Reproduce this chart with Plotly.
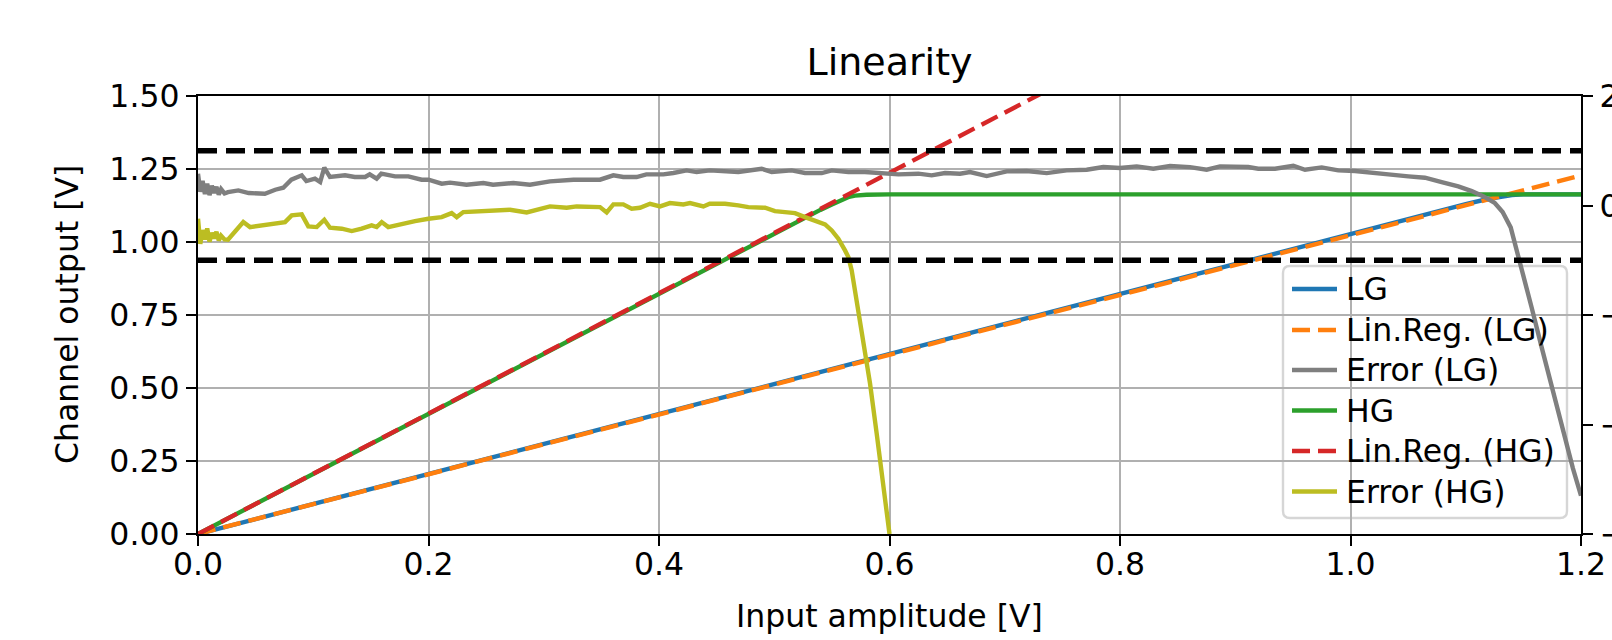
import plotly.graph_objects as go

# ---------------- data ----------------
x_lg = [0.0, 0.2, 0.4, 0.6, 0.8, 1.0, 1.05, 1.10, 1.12, 1.13, 1.14, 1.15, 1.2]
y_lg = [0.0, 0.206, 0.411, 0.617, 0.824, 1.030, 1.080, 1.130, 1.148, 1.156, 1.161, 1.163, 1.163]

x_reg_lg = [0.0, 1.2]
y_reg_lg = [0.0, 1.228]

x_hg = [0.0, 0.2, 0.4, 0.5, 0.54, 0.55, 0.556, 0.56, 0.565, 0.57, 0.58, 0.6, 1.2]
y_hg = [0.0, 0.412, 0.825, 1.030, 1.110, 1.128, 1.140, 1.147, 1.155, 1.159, 1.162, 1.163, 1.163]

x_reg_hg = [0.0, 1.2]
y_reg_hg = [0.0, 2.474]

x_err_lg = [0.000, 0.002, 0.004, 0.006, 0.008, 0.010, 0.012, 0.014, 0.016, 0.018, 0.020, 0.023,
            0.026, 0.035, 0.044, 0.058, 0.067, 0.074, 0.081, 0.090, 0.094, 0.1015, 0.106, 0.1096,
            0.1145, 0.1276, 0.136, 0.145, 0.149, 0.155, 0.159, 0.171, 0.1825, 0.194, 0.200, 0.2115,
            0.2187, 0.233, 0.2476, 0.256, 0.2736, 0.288, 0.3054, 0.3257, 0.3488, 0.3604, 0.369,
            0.3806, 0.389, 0.4038, 0.4124, 0.424, 0.4327, 0.444, 0.4688, 0.4891, 0.4978, 0.5151,
            0.5267, 0.5412, 0.5499, 0.5643, 0.5787, 0.5932, 0.6077, 0.625, 0.6366, 0.6482, 0.6612,
            0.6699, 0.6843, 0.7017, 0.719, 0.7364, 0.7537, 0.7711, 0.7855, 0.80, 0.8145, 0.8289,
            0.8434, 0.8607, 0.8752, 0.8868, 0.8969, 0.9113, 0.92, 0.9345, 0.9504, 0.9605, 0.975,
            0.9894, 1.0039, 1.0184, 1.0328, 1.0502, 1.0646, 1.0791, 1.0935, 1.1052, 1.115, 1.125,
            1.132, 1.139, 1.148, 1.157, 1.166, 1.175, 1.184, 1.193, 1.2]
err_lg = [0.58, 0.25, 0.45, 0.21, 0.40, 0.19, 0.36, 0.23, 0.34, 0.20, 0.30, 0.22,
          0.245, 0.276, 0.227, 0.215, 0.288, 0.325, 0.471, 0.551, 0.447, 0.49, 0.429, 0.691,
          0.52, 0.551, 0.52, 0.52, 0.568, 0.49, 0.581, 0.532, 0.532, 0.471, 0.471, 0.398,
          0.417, 0.38, 0.41, 0.38, 0.41, 0.38, 0.44, 0.471, 0.471, 0.551, 0.52,
          0.52, 0.568, 0.568, 0.593, 0.641, 0.611, 0.641, 0.611, 0.672, 0.611, 0.641,
          0.593, 0.593, 0.641, 0.611, 0.611, 0.593, 0.568, 0.581, 0.551, 0.593, 0.581,
          0.611, 0.538, 0.623, 0.629, 0.592, 0.641, 0.653, 0.702, 0.684, 0.714, 0.672,
          0.72, 0.702, 0.653, 0.714, 0.714, 0.702, 0.672, 0.672, 0.726, 0.653, 0.696,
          0.641, 0.629, 0.592, 0.568, 0.531, 0.507, 0.428, 0.349, 0.264, 0.17, 0.05,
          -0.12, -0.40, -1.10, -1.85, -2.60, -3.35, -4.10, -4.80, -5.30]

x_err_hg = [0.000, 0.002, 0.004, 0.006, 0.008, 0.010, 0.012, 0.014, 0.016, 0.018, 0.020, 0.023,
            0.026, 0.0321, 0.0393, 0.0451, 0.0553, 0.0668, 0.0755, 0.0813, 0.090, 0.0957, 0.103,
            0.1096, 0.1145, 0.1247, 0.1334, 0.142, 0.1507, 0.155, 0.1594, 0.1651, 0.1767, 0.1883,
            0.1999, 0.2114, 0.2201, 0.2245, 0.2302, 0.2476, 0.2707, 0.2852, 0.2996, 0.3054, 0.3199,
            0.3286, 0.3488, 0.3546, 0.3604, 0.369, 0.3763, 0.3835, 0.3922, 0.4009, 0.4095, 0.4211,
            0.4269, 0.4385, 0.444, 0.4573, 0.4688, 0.4775, 0.492, 0.5006, 0.5093, 0.518, 0.5267,
            0.5354, 0.5441, 0.5499, 0.5556, 0.5614, 0.5643, 0.5672, 0.5715, 0.5773, 0.5831, 0.5889,
            0.5946, 0.6]
err_hg = [-0.24, -0.70, -0.45, -0.62, -0.42, -0.66, -0.50, -0.60, -0.48, -0.64, -0.55, -0.62,
          -0.626, -0.485, -0.303, -0.394, -0.363, -0.321, -0.303, -0.181, -0.163, -0.382, -0.394,
          -0.26, -0.406, -0.424, -0.467, -0.424, -0.363, -0.394, -0.303, -0.394, -0.333, -0.285,
          -0.242, -0.212, -0.139, -0.212, -0.12, -0.102, -0.078, -0.126, -0.059, -0.017, -0.041,
          -0.017, -0.029, -0.126, 0.02, 0.02, -0.059, -0.041, 0.032, -0.017, 0.044, 0.02,
          0.044, -0.017, 0.032, 0.032, 0.002, -0.029, -0.041, -0.102, -0.12, -0.139, -0.212,
          -0.285, -0.345, -0.455, -0.607, -0.82, -0.942, -1.185, -1.73, -2.52, -3.25, -4.17,
          -5.08, -6.0]

limit_x = [0.0, 1.2]
limit_upper = [1.0, 1.0]
limit_lower = [-1.0, -1.0]

x_ticks = [0.0, 0.2, 0.4, 0.6, 0.8, 1.0, 1.2]
x_ticktext = ["0.0", "0.2", "0.4", "0.6", "0.8", "1.0", "1.2"]
y_ticks = [0.0, 0.25, 0.5, 0.75, 1.0, 1.25, 1.5]
y_ticktext = ["0.00", "0.25", "0.50", "0.75", "1.00", "1.25", "1.50"]
y2_ticks = [-6, -4, -2, 0, 2]
y2_ticktext = ["\u22126", "\u22124", "\u22122", "0", "2"]

legend_labels = ["LG", "Lin.Reg. (LG)", "Error (LG)", "HG", "Lin.Reg. (HG)", "Error (HG)"]
legend_colors = ["#1f77b4", "#ff7f0e", "#7f7f7f", "#2ca02c", "#d62728", "#bcbd22"]
legend_dashes = ["solid", "18px,8px", "solid", "solid", "18px,8px", "solid"]

# ---------------- style ----------------
FONT = "DejaVu Sans"
FS = 31.5
LW = 4.4
W, H = 1612, 640
L, R, T, B = 198, 31, 96, 106
PW, PH = W - L - R, H - T - B

fig = go.Figure()

def add(x, y, name, color, dash="solid", axis="y"):
    fig.add_trace(go.Scatter(x=x, y=y, mode="lines", name=name, yaxis=axis,
                             line=dict(color=color, width=LW, dash=dash),
                             showlegend=False, hoverinfo="skip"))

add(x_lg, y_lg, "LG", "#1f77b4")
add(x_reg_lg, y_reg_lg, "Lin.Reg. (LG)", "#ff7f0e", "18px,8px")
add(x_hg, y_hg, "HG", "#2ca02c")
add(x_reg_hg, y_reg_hg, "Lin.Reg. (HG)", "#d62728", "18px,8px")
add(x_err_lg, err_lg, "Error (LG)", "#7f7f7f", axis="y2")
add(x_err_hg, err_hg, "Error (HG)", "#bcbd22", axis="y2")
fig.add_trace(go.Scatter(x=limit_x, y=limit_upper, mode="lines", yaxis="y2", showlegend=False,
                         line=dict(color="black", width=5.4, dash="19px,9px"), hoverinfo="skip"))
fig.add_trace(go.Scatter(x=limit_x, y=limit_lower, mode="lines", yaxis="y2", showlegend=False,
                         line=dict(color="black", width=5.4, dash="19px,9px"), hoverinfo="skip"))

axis_common = dict(showline=True, linecolor="black", linewidth=2.4, ticks="outside",
                   ticklen=10, tickwidth=2.4, tickcolor="black", zeroline=False,
                   tickfont=dict(family=FONT, size=FS, color="black"))

fig.update_layout(
    width=W, height=H,
    margin=dict(l=L, r=R, t=T, b=B, autoexpand=False),
    paper_bgcolor="white", plot_bgcolor="white",
    showlegend=False,
    xaxis=dict(range=[0, 1.2], tickvals=x_ticks, ticktext=x_ticktext, mirror=True,
               showgrid=True, gridcolor="#b0b0b0", gridwidth=2, ticklabelstandoff=-9,
               **axis_common),
    yaxis=dict(range=[0, 1.5], tickvals=y_ticks, ticktext=y_ticktext,
               showgrid=True, gridcolor="#b0b0b0", gridwidth=2, **axis_common),
    yaxis2=dict(range=[-6, 2], tickvals=y2_ticks, ticktext=y2_ticktext, overlaying="y",
                side="right", showgrid=False, **axis_common),
    title=dict(text="Linearity", x=(L + PW / 2) / W, xanchor="center", y=1 - 62 / H,
               yanchor="middle", font=dict(family=FONT, size=38, color="black")),
)

# axis titles
fig.add_annotation(text="Input amplitude [V]", xref="paper", yref="paper", x=0.5,
                   y=-(616 - (T + PH)) / PH, xanchor="center", yanchor="middle",
                   showarrow=False, font=dict(family=FONT, size=FS, color="black"))
fig.add_annotation(text="Channel output [V]", xref="paper", yref="paper", x=(67 - L) / PW,
                   y=0.5, xanchor="center", yanchor="middle", textangle=-90,
                   showarrow=False, font=dict(family=FONT, size=FS, color="black"))

# manual legend (matplotlib-style box)
def px2x(px):
    return (px - L) / PW

def py2y(py):
    return (T + PH - py) / PH

bx0, bx1, by0, by1 = px2x(1283), px2x(1567), py2y(518), py2y(266)
rx, ry = 7 / PW, 7 / PH
path = (f"M{bx0+rx},{by1} L{bx1-rx},{by1} Q{bx1},{by1} {bx1},{by1-ry} "
        f"L{bx1},{by0+ry} Q{bx1},{by0} {bx1-rx},{by0} L{bx0+rx},{by0} "
        f"Q{bx0},{by0} {bx0},{by0+ry} L{bx0},{by1-ry} Q{bx0},{by1} {bx0+rx},{by1} Z")
fig.add_shape(type="path", path=path, xref="paper", yref="paper", layer="between",
              fillcolor="rgba(255,255,255,0.8)", line=dict(color="rgba(204,204,204,0.8)", width=2.4))

row_py = [289, 330, 370, 410.5, 451, 491.5]
for lab, col, dsh, py in zip(legend_labels, legend_colors, legend_dashes, row_py):
    fig.add_shape(type="line", xref="paper", yref="paper", x0=px2x(1292), x1=px2x(1337),
                  y0=py2y(py), y1=py2y(py), layer="above",
                  line=dict(color=col, width=LW, dash=dsh))
    fig.add_annotation(text=lab, xref="paper", yref="paper", x=px2x(1344), y=py2y(py),
                       xanchor="left", yanchor="middle", showarrow=False,
                       font=dict(family=FONT, size=FS, color="black"))

fig.write_html("out.html")
